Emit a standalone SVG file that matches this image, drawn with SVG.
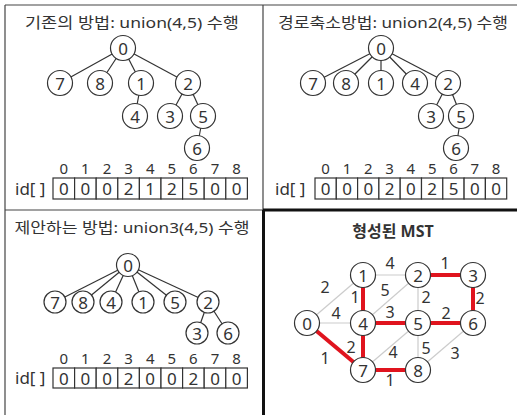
<svg xmlns="http://www.w3.org/2000/svg" width="517" height="415" viewBox="0 0 517 415">
<style>
text{font-family:"Noto Sans","Noto Sans CJK KR",sans-serif;fill:#333}
.t{font-size:15px}
.n{font-size:17px;text-anchor:middle;dominant-baseline:central}
.ix{font-size:15px;text-anchor:middle}
.c{font-size:17px;text-anchor:middle;dominant-baseline:central}
.w{font-size:16px;text-anchor:middle;dominant-baseline:central}
circle{fill:#fff;stroke:#333;stroke-width:1.2}
.e line{stroke:#333;stroke-width:1.2}
.g line{stroke:#ccc;stroke-width:1.2}
.r line{stroke:#e0141e;stroke-width:4}
rect.cell{fill:#fff;stroke:#333;stroke-width:1.2}
.b{stroke:#444;stroke-width:1.2;fill:none}
</style>
<rect width="517" height="415" fill="#fff"/>
<!-- frame -->
<g id="frame">
<line class="b" x1="5" y1="5" x2="517" y2="5"/>
<line class="b" x1="5" y1="5" x2="5" y2="415"/>
<line class="b" x1="5" y1="210" x2="263" y2="210"/>
<line class="b" x1="263" y1="5" x2="263" y2="210"/>
<line x1="263" y1="210" x2="517" y2="210" stroke="#111" stroke-width="3"/>
<line x1="263.5" y1="210" x2="263.5" y2="415" stroke="#111" stroke-width="3"/>
</g>

<!-- Panel 1 -->
<g id="panel1">
<text class="t" x="132" y="28" text-anchor="middle" textLength="214" lengthAdjust="spacingAndGlyphs">기존의 방법: union(4,5) 수행</text>
<g class="e" id="p1-edges">
<line x1="123" y1="48" x2="60" y2="83"/>
<line x1="123" y1="48" x2="100" y2="83"/>
<line x1="123" y1="48" x2="141" y2="83"/>
<line x1="123" y1="48" x2="188" y2="83"/>
<line x1="141" y1="83" x2="135" y2="116"/>
<line x1="188" y1="83" x2="170" y2="116"/>
<line x1="188" y1="83" x2="203" y2="116"/>
<line x1="203" y1="116" x2="197" y2="148"/>
</g>
<g id="p1-n0"><circle cx="123" cy="48" r="12.5"/><text class="n" x="123" y="48">0</text></g>
<g id="p1-n7"><circle cx="60" cy="83" r="12.5"/><text class="n" x="60" y="83">7</text></g>
<g id="p1-n8"><circle cx="100" cy="83" r="12.5"/><text class="n" x="100" y="83">8</text></g>
<g id="p1-n1"><circle cx="141" cy="83" r="12.5"/><text class="n" x="141" y="83">1</text></g>
<g id="p1-n2"><circle cx="188" cy="83" r="12.5"/><text class="n" x="188" y="83">2</text></g>
<g id="p1-n4"><circle cx="135" cy="116" r="12.5"/><text class="n" x="135" y="116">4</text></g>
<g id="p1-n3"><circle cx="170" cy="116" r="12.5"/><text class="n" x="170" y="116">3</text></g>
<g id="p1-n5"><circle cx="203" cy="116" r="12.5"/><text class="n" x="203" y="116">5</text></g>
<g id="p1-n6"><circle cx="197" cy="148" r="12.5"/><text class="n" x="197" y="148">6</text></g>
<g id="p1-array">
<text class="c" x="15" y="188" style="text-anchor:start">id[ ]</text>
<rect class="cell" x="53" y="178" width="21.6" height="21"/><rect class="cell" x="74.6" y="178" width="21.6" height="21"/><rect class="cell" x="96.2" y="178" width="21.6" height="21"/><rect class="cell" x="117.8" y="178" width="21.6" height="21"/><rect class="cell" x="139.4" y="178" width="21.6" height="21"/><rect class="cell" x="161" y="178" width="21.6" height="21"/><rect class="cell" x="182.6" y="178" width="21.6" height="21"/><rect class="cell" x="204.2" y="178" width="21.6" height="21"/><rect class="cell" x="225.8" y="178" width="21.6" height="21"/>
<text class="ix" x="63.8" y="174">0</text><text class="ix" x="85.4" y="174">1</text><text class="ix" x="107" y="174">2</text><text class="ix" x="128.6" y="174">3</text><text class="ix" x="150.2" y="174">4</text><text class="ix" x="171.8" y="174">5</text><text class="ix" x="193.4" y="174">6</text><text class="ix" x="215" y="174">7</text><text class="ix" x="236.6" y="174">8</text>
<text class="c" x="63.8" y="188.5">0</text><text class="c" x="85.4" y="188.5">0</text><text class="c" x="107" y="188.5">0</text><text class="c" x="128.6" y="188.5">2</text><text class="c" x="150.2" y="188.5">1</text><text class="c" x="171.8" y="188.5">2</text><text class="c" x="193.4" y="188.5">5</text><text class="c" x="215" y="188.5">0</text><text class="c" x="236.6" y="188.5">0</text>
</g>
</g>

<!-- Panel 2 -->
<g id="panel2">
<text class="t" x="393" y="28" text-anchor="middle" textLength="230" lengthAdjust="spacingAndGlyphs">경로축소방법: union2(4,5) 수행</text>
<g class="e" id="p2-edges">
<line x1="381" y1="48" x2="313" y2="83"/>
<line x1="381" y1="48" x2="346" y2="83"/>
<line x1="381" y1="48" x2="381" y2="83"/>
<line x1="381" y1="48" x2="415" y2="83"/>
<line x1="381" y1="48" x2="448" y2="83"/>
<line x1="448" y1="83" x2="431" y2="116"/>
<line x1="448" y1="83" x2="461" y2="116"/>
<line x1="461" y1="116" x2="456" y2="148"/>
</g>
<g id="p2-n0"><circle cx="381" cy="48" r="12.5"/><text class="n" x="381" y="48">0</text></g>
<g id="p2-n7"><circle cx="313" cy="83" r="12.5"/><text class="n" x="313" y="83">7</text></g>
<g id="p2-n8"><circle cx="346" cy="83" r="12.5"/><text class="n" x="346" y="83">8</text></g>
<g id="p2-n1"><circle cx="381" cy="83" r="12.5"/><text class="n" x="381" y="83">1</text></g>
<g id="p2-n4"><circle cx="415" cy="83" r="12.5"/><text class="n" x="415" y="83">4</text></g>
<g id="p2-n2"><circle cx="448" cy="83" r="12.5"/><text class="n" x="448" y="83">2</text></g>
<g id="p2-n3"><circle cx="431" cy="116" r="12.5"/><text class="n" x="431" y="116">3</text></g>
<g id="p2-n5"><circle cx="461" cy="116" r="12.5"/><text class="n" x="461" y="116">5</text></g>
<g id="p2-n6"><circle cx="456" cy="148" r="12.5"/><text class="n" x="456" y="148">6</text></g>
<g id="p2-array">
<text class="c" x="275" y="188" style="text-anchor:start">id[ ]</text>
<rect class="cell" x="315" y="178" width="21.3" height="21"/><rect class="cell" x="336.3" y="178" width="21.3" height="21"/><rect class="cell" x="357.6" y="178" width="21.3" height="21"/><rect class="cell" x="378.9" y="178" width="21.3" height="21"/><rect class="cell" x="400.2" y="178" width="21.3" height="21"/><rect class="cell" x="421.5" y="178" width="21.3" height="21"/><rect class="cell" x="442.8" y="178" width="21.3" height="21"/><rect class="cell" x="464.1" y="178" width="21.3" height="21"/><rect class="cell" x="485.4" y="178" width="21.3" height="21"/>
<text class="ix" x="325.6" y="174">0</text><text class="ix" x="347" y="174">1</text><text class="ix" x="368.3" y="174">2</text><text class="ix" x="389.6" y="174">3</text><text class="ix" x="410.9" y="174">4</text><text class="ix" x="432.2" y="174">5</text><text class="ix" x="453.5" y="174">6</text><text class="ix" x="474.8" y="174">7</text><text class="ix" x="496.1" y="174">8</text>
<text class="c" x="325.6" y="188.5">0</text><text class="c" x="347" y="188.5">0</text><text class="c" x="368.3" y="188.5">0</text><text class="c" x="389.6" y="188.5">2</text><text class="c" x="410.9" y="188.5">0</text><text class="c" x="432.2" y="188.5">2</text><text class="c" x="453.5" y="188.5">5</text><text class="c" x="474.8" y="188.5">0</text><text class="c" x="496.1" y="188.5">0</text>
</g>
</g>

<!-- Panel 3 -->
<g id="panel3">
<text class="t" x="132" y="233" text-anchor="middle" textLength="235" lengthAdjust="spacingAndGlyphs">제안하는 방법: union3(4,5) 수행</text>
<g class="e" id="p3-edges">
<line x1="128" y1="265" x2="55" y2="302"/>
<line x1="128" y1="265" x2="83" y2="302"/>
<line x1="128" y1="265" x2="111" y2="302"/>
<line x1="128" y1="265" x2="143" y2="302"/>
<line x1="128" y1="265" x2="175" y2="302"/>
<line x1="128" y1="265" x2="208" y2="302"/>
<line x1="208" y1="302" x2="197" y2="333"/>
<line x1="208" y1="302" x2="228" y2="333"/>
</g>
<g id="p3-n0"><circle cx="128" cy="265" r="11.5"/><text class="n" x="128" y="265">0</text></g>
<g id="p3-n7"><circle cx="55" cy="302" r="11"/><text class="n" x="55" y="302">7</text></g>
<g id="p3-n8"><circle cx="83" cy="302" r="11"/><text class="n" x="83" y="302">8</text></g>
<g id="p3-n4"><circle cx="111" cy="302" r="11"/><text class="n" x="111" y="302">4</text></g>
<g id="p3-n1"><circle cx="143" cy="302" r="11"/><text class="n" x="143" y="302">1</text></g>
<g id="p3-n5"><circle cx="175" cy="302" r="11"/><text class="n" x="175" y="302">5</text></g>
<g id="p3-n2"><circle cx="208" cy="302" r="11"/><text class="n" x="208" y="302">2</text></g>
<g id="p3-n3"><circle cx="197" cy="333" r="11"/><text class="n" x="197" y="333">3</text></g>
<g id="p3-n6"><circle cx="228" cy="333" r="11"/><text class="n" x="228" y="333">6</text></g>
<g id="p3-array">
<text class="c" x="15" y="377.5" style="text-anchor:start">id[ ]</text>
<rect class="cell" x="53" y="368" width="21.6" height="20"/><rect class="cell" x="74.6" y="368" width="21.6" height="20"/><rect class="cell" x="96.2" y="368" width="21.6" height="20"/><rect class="cell" x="117.8" y="368" width="21.6" height="20"/><rect class="cell" x="139.4" y="368" width="21.6" height="20"/><rect class="cell" x="161" y="368" width="21.6" height="20"/><rect class="cell" x="182.6" y="368" width="21.6" height="20"/><rect class="cell" x="204.2" y="368" width="21.6" height="20"/><rect class="cell" x="225.8" y="368" width="21.6" height="20"/>
<text class="ix" x="63.8" y="364">0</text><text class="ix" x="85.4" y="364">1</text><text class="ix" x="107" y="364">2</text><text class="ix" x="128.6" y="364">3</text><text class="ix" x="150.2" y="364">4</text><text class="ix" x="171.8" y="364">5</text><text class="ix" x="193.4" y="364">6</text><text class="ix" x="215" y="364">7</text><text class="ix" x="236.6" y="364">8</text>
<text class="c" x="63.8" y="378">0</text><text class="c" x="85.4" y="378">0</text><text class="c" x="107" y="378">0</text><text class="c" x="128.6" y="378">2</text><text class="c" x="150.2" y="378">0</text><text class="c" x="171.8" y="378">0</text><text class="c" x="193.4" y="378">2</text><text class="c" x="215" y="378">0</text><text class="c" x="236.6" y="378">0</text>
</g>
</g>

<!-- Panel 4 MST -->
<g id="panel4">
<text x="393" y="237" text-anchor="middle" font-size="16" font-weight="bold">형성된 MST</text>
<g id="mst-edges">
<g class="g">
<line x1="307" y1="323" x2="363" y2="275"/>
<line x1="307" y1="323" x2="363" y2="323"/>
<line x1="363" y1="275" x2="418" y2="275"/>
<line x1="363" y1="323" x2="418" y2="275"/>
<line x1="418" y1="275" x2="418" y2="323"/>
<line x1="363" y1="370" x2="418" y2="323"/>
<line x1="418" y1="323" x2="418" y2="370"/>
<line x1="418" y1="370" x2="473" y2="323"/>
</g>
<g class="r">
<line x1="363" y1="275" x2="363" y2="323"/>
<line x1="363" y1="323" x2="418" y2="323"/>
<line x1="418" y1="275" x2="473" y2="275"/>
<line x1="473" y1="275" x2="473" y2="323"/>
<line x1="418" y1="323" x2="473" y2="323"/>
<line x1="363" y1="323" x2="363" y2="370"/>
<line x1="307" y1="323" x2="363" y2="370"/>
<line x1="363" y1="370" x2="418" y2="370"/>
</g>
<g id="weights">
<text class="w" x="390" y="263">4</text>
<text class="w" x="445" y="263">1</text>
<text class="w" x="325" y="287">2</text>
<text class="w" x="385" y="290">5</text>
<text class="w" x="355" y="297">1</text>
<text class="w" x="426" y="297">2</text>
<text class="w" x="480" y="298">2</text>
<text class="w" x="336" y="313">4</text>
<text class="w" x="390" y="312">3</text>
<text class="w" x="446" y="313">2</text>
<text class="w" x="351" y="347">2</text>
<text class="w" x="393" y="352">4</text>
<text class="w" x="426" y="348">5</text>
<text class="w" x="455" y="353">3</text>
<text class="w" x="325" y="358">1</text>
<text class="w" x="390" y="380">1</text>
</g>
</g>
<g id="mst-n0"><circle cx="307" cy="323" r="12.5"/><text class="n" x="307" y="323">0</text></g>
<g id="mst-n1"><circle cx="363" cy="275" r="12.5"/><text class="n" x="363" y="275">1</text></g>
<g id="mst-n2"><circle cx="418" cy="275" r="12.5"/><text class="n" x="418" y="275">2</text></g>
<g id="mst-n3"><circle cx="473" cy="275" r="12.5"/><text class="n" x="473" y="275">3</text></g>
<g id="mst-n4"><circle cx="363" cy="323" r="12.5"/><text class="n" x="363" y="323">4</text></g>
<g id="mst-n5"><circle cx="418" cy="323" r="12.5"/><text class="n" x="418" y="323">5</text></g>
<g id="mst-n6"><circle cx="473" cy="323" r="12.5"/><text class="n" x="473" y="323">6</text></g>
<g id="mst-n7"><circle cx="363" cy="370" r="12.5"/><text class="n" x="363" y="370">7</text></g>
<g id="mst-n8"><circle cx="418" cy="370" r="12.5"/><text class="n" x="418" y="370">8</text></g>
</g>
</svg>
